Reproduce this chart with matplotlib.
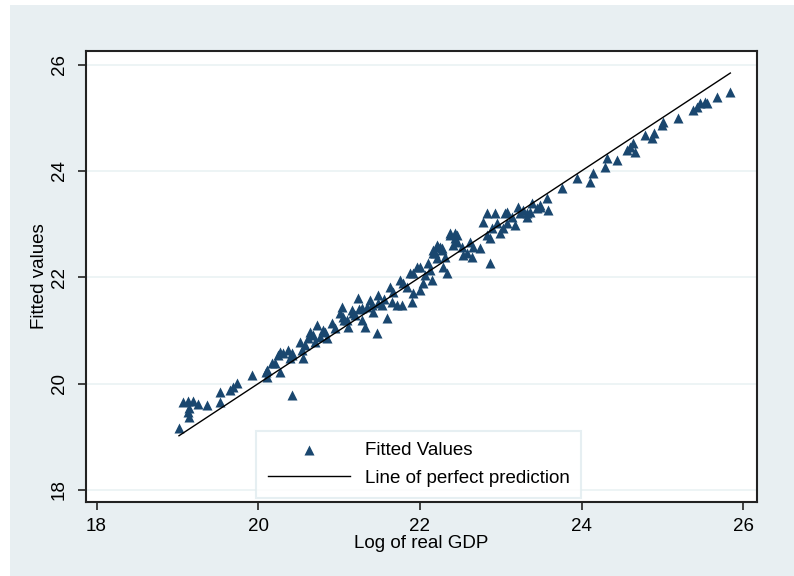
import matplotlib
matplotlib.use("Agg")
import matplotlib.pyplot as plt
from matplotlib.patches import Rectangle

# Log of real GDP (x) vs fitted values (y)
log_gdp = [
    19.02, 19.07, 19.13, 19.19, 19.25, 19.13, 19.14, 19.14, 19.37, 19.53,
    19.53, 19.65, 19.69, 19.74, 19.92, 20.11, 20.10, 20.17, 20.21, 20.27,
    20.24, 20.31, 20.37, 20.42, 20.42, 20.11, 20.39, 20.52, 20.54, 20.55,
    20.58, 20.64, 20.68, 20.70, 20.73, 20.76, 20.83, 20.85, 20.91, 20.95,
    21.01, 21.04, 21.05, 21.10, 21.11, 21.16, 21.20, 21.23, 21.28, 21.32,
    21.35, 21.38, 21.47, 21.48, 21.17, 21.28, 21.41, 21.42, 21.48, 21.53,
    21.59, 21.63, 21.67, 21.66, 21.72, 21.78, 21.75, 21.79, 21.84, 21.88,
    21.90, 21.91, 21.96, 22.00, 22.04, 22.06, 22.10, 22.12, 22.15, 22.19,
    22.21, 22.22, 22.27, 22.29, 22.34, 22.37, 22.41, 22.43, 22.31, 22.43,
    22.46, 22.52, 22.53, 22.58, 22.62, 22.64, 22.66, 22.74, 22.78, 22.83,
    22.87, 22.89, 22.93, 22.95, 22.99, 23.03, 23.05, 23.08, 23.14, 23.18,
    23.21, 23.24, 23.28, 23.33, 23.36, 23.39, 23.45, 23.49, 23.57, 23.58,
    22.87, 23.76, 23.94, 24.11, 24.14, 24.29, 24.32, 24.44, 24.56, 24.60,
    24.64, 24.66, 24.79, 24.87, 24.89, 25.00, 25.01, 25.19, 25.38, 25.43,
    25.47, 25.53, 25.55, 25.68, 25.84,
    20.27, 20.42, 22.16, 22.21, 22.27, 22.37, 22.46, 22.83, 23.08, 23.33,
    23.49, 22.25, 22.16, 22.00, 21.91, 20.62, 20.80, 21.06, 21.25, 21.55,
]
fitted = [
    19.17, 19.65, 19.67, 19.67, 19.62, 19.47, 19.37, 19.54, 19.60, 19.65,
    19.84, 19.88, 19.94, 20.01, 20.16, 20.12, 20.22, 20.39, 20.39, 20.22,
    20.54, 20.58, 20.63, 20.54, 19.79, 20.26, 20.48, 20.78, 20.63, 20.48,
    20.73, 20.97, 20.91, 20.78, 21.10, 20.88, 20.97, 20.86, 21.14, 21.05,
    21.33, 21.44, 21.25, 21.20, 21.06, 21.38, 21.29, 21.61, 21.20, 21.06,
    21.44, 21.57, 20.95, 21.51, 21.33, 21.42, 21.48, 21.35, 21.67, 21.48,
    21.23, 21.82, 21.72, 21.53, 21.48, 21.48, 21.95, 21.89, 21.82, 22.08,
    21.53, 21.70, 22.19, 21.76, 21.89, 22.04, 22.27, 22.14, 21.95, 22.45,
    22.36, 22.57, 22.51, 22.19, 22.08, 22.83, 22.61, 22.74, 22.38, 22.83,
    22.66, 22.57, 22.42, 22.45, 22.66, 22.38, 22.57, 22.55, 23.04, 22.79,
    22.74, 22.92, 23.21, 23.02, 22.83, 22.92, 23.21, 23.02, 23.13, 22.98,
    23.32, 23.21, 23.26, 23.13, 23.23, 23.39, 23.30, 23.36, 23.49, 23.26,
    22.27, 23.68, 23.86, 23.79, 23.96, 24.07, 24.24, 24.20, 24.39, 24.45,
    24.52, 24.35, 24.67, 24.62, 24.71, 24.86, 24.92, 24.99, 25.14, 25.20,
    25.27, 25.29, 25.27, 25.39, 25.48,
    20.59, 20.58, 22.51, 22.61, 22.55, 22.79, 22.79, 23.21, 23.23, 23.21,
    23.32, 22.57, 22.45, 22.19, 22.08, 20.85, 21.00, 21.20, 21.40, 21.60,
]

x_ticks = [18, 20, 22, 24, 26]
y_ticks = [18, 20, 22, 24, 26]

navy = "#1a476f"
bg = "#e8eff2"

plt.rcParams['font.family'] = ['Liberation Sans', 'DejaVu Sans']

fig = plt.figure(figsize=(7.94, 5.76), dpi=100, facecolor="white")
# Stata-style outer panel (thin white strip at top and left)
fig.add_artist(Rectangle((10 / 794, 0), 1 - 10 / 794, 1 - 5 / 576,
                         transform=fig.transFigure, facecolor=bg,
                         edgecolor="none", zorder=-10))

ax = fig.add_axes([86 / 794, 74.3 / 576, 671 / 794, 451 / 576])
ax.set_facecolor("white")

# perfect-prediction line spans the data range
lo, hi = min(log_gdp), max(log_gdp)
ax.scatter(log_gdp, fitted, marker="^", s=52, color=navy, linewidths=0,
           zorder=3, label="Fitted Values")
ax.plot([lo, hi], [lo, hi], color="black", lw=1.0, zorder=4,
        label="Line of perfect prediction")

ax.set_xlim(17.87, 26.17)
ax.set_ylim(17.78, 26.26)
ax.set_xticks(x_ticks)
ax.set_yticks(y_ticks)
ax.grid(axis="y", color="#eaf2f3", lw=1.2, zorder=0)
ax.grid(axis="x", visible=False)
ax.set_axisbelow(True)

for s in ax.spines.values():
    s.set_linewidth(1.5)
    s.set_color("#222222")

ax.tick_params(axis="both", direction="out", length=6, width=1.2,
               labelsize=13.5, color="#222222")
ax.tick_params(axis="x", pad=6)
ax.tick_params(axis="y", pad=7)
for lab in ax.get_yticklabels():
    lab.set_rotation(90)
    lab.set_va("center")

ax.set_xlabel("Log of real GDP", fontsize=13.5, labelpad=0)
ax.set_ylabel("Fitted values", fontsize=13.5, labelpad=2)

leg = ax.legend(loc="lower center", bbox_to_anchor=(0.496, 0.008),
                frameon=True, fancybox=False, fontsize=13.5,
                handlelength=4.4, borderpad=0.6, labelspacing=0.55,
                handletextpad=0.8, borderaxespad=0)
leg.get_frame().set_edgecolor("#e0ecef")
leg.get_frame().set_linewidth(1.5)

fig.savefig("out.png", dpi=100, facecolor="white")
